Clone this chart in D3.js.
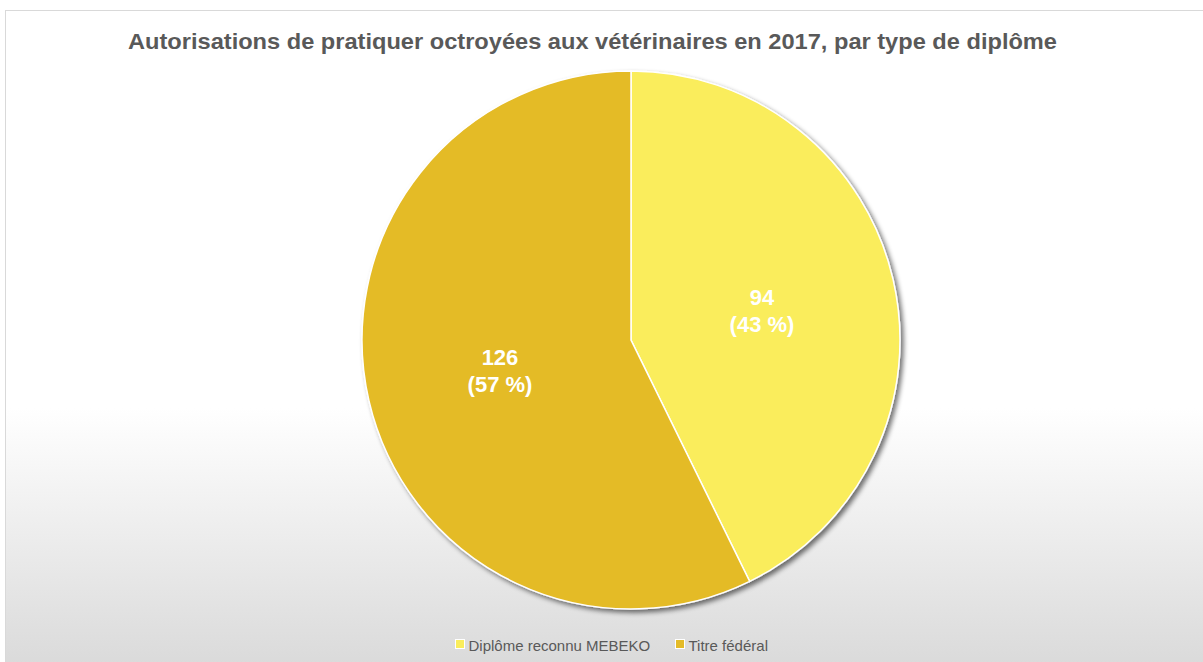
<!DOCTYPE html>
<html>
<head>
<meta charset="utf-8">
<script src="https://cdn.jsdelivr.net/npm/d3@7.9.0/dist/d3.min.js"></script>
<style>
  html, body { margin: 0; padding: 0; background: #fff; }
  svg { display: block; font-family: "Liberation Sans", Arial, sans-serif; }
</style>
</head>
<body>
<svg id="chart" width="1203" height="662"></svg>
<script>
const title = 'Autorisations de pratiquer octroyées aux vétérinaires en 2017, par type de diplôme';
const categories = ['Diplôme reconnu MEBEKO', 'Titre fédéral'];
const counts = [94, 126];
const percents = ['43 %', '57 %'];
const colors = ['#faed5c', '#e4bb28'];

const width = 1203, height = 662;
const svg = d3.select('#chart');
const defs = svg.append('defs');

// background gradient, white to grey at the bottom
const grad = defs.append('linearGradient')
  .attr('id', 'bg').attr('x1', 0).attr('y1', 0).attr('x2', 0).attr('y2', 1);
grad.append('stop').attr('offset', '0%').attr('stop-color', '#ffffff');
grad.append('stop').attr('offset', '60%').attr('stop-color', '#ffffff');
grad.append('stop').attr('offset', '100%').attr('stop-color', '#d9d9d9');

const shadow = defs.append('filter').attr('id', 'shadow')
  .attr('x', '-10%').attr('y', '-10%').attr('width', '120%').attr('height', '120%');
shadow.append('feGaussianBlur').attr('in', 'SourceAlpha').attr('stdDeviation', 2.5);
shadow.append('feOffset').attr('dx', 3).attr('dy', 3).attr('result', 'off');
shadow.append('feComponentTransfer').append('feFuncA').attr('type', 'linear').attr('slope', 0.55);
const merge = shadow.append('feMerge');
merge.append('feMergeNode');
merge.append('feMergeNode').attr('in', 'SourceGraphic');

svg.append('rect')
  .attr('x', 5.5).attr('y', 10.5)
  .attr('width', width + 10).attr('height', height)
  .attr('fill', 'url(#bg)')
  .attr('stroke', '#d9d9d9').attr('stroke-width', 1);

svg.append('text')
  .attr('x', 592.5).attr('y', 49)
  .attr('text-anchor', 'middle')
  .attr('font-size', 21.5).attr('font-weight', 'bold')
  .attr('fill', '#595959')
  .attr('textLength', 929).attr('lengthAdjust', 'spacingAndGlyphs')
  .text(title);

// pie
const cx = 631, cy = 340, r = 269;
const data = categories.map((c, i) => ({ label: c, value: counts[i], pct: percents[i], color: colors[i] }));
const pie = d3.pie().value(d => d.value).sort(null);
const arc = d3.arc().innerRadius(0).outerRadius(r);
const arcs = pie(data);

const g = svg.append('g').attr('transform', `translate(${cx},${cy})`);
g.append('g').attr('filter', 'url(#shadow)')
  .selectAll('path')
  .data(arcs)
  .enter()
  .append('path')
  .attr('d', arc)
  .attr('fill', d => d.data.color)
  .attr('stroke', '#ffffff')
  .attr('stroke-width', 1.5);

const labels = g.selectAll('text.lbl')
  .data(arcs)
  .enter()
  .append('text')
  .attr('class', 'lbl')
  .attr('transform', d => `translate(${arc.centroid(d)})`)
  .attr('text-anchor', 'middle')
  .attr('font-size', 22).attr('font-weight', 'bold')
  .attr('fill', '#ffffff');
labels.append('tspan').attr('x', 0).attr('y', -5).text(d => d.data.value);
labels.append('tspan').attr('x', 0).attr('y', 22).text(d => `(${d.data.pct})`);

// legend
const legend = svg.append('g').attr('transform', 'translate(0,645)');
const legX = [455, 675];
data.forEach((d, i) => {
  const item = legend.append('g').attr('transform', `translate(${legX[i]},0)`);
  item.append('rect')
    .attr('x', 0.5).attr('y', -5.5).attr('width', 9).attr('height', 9)
    .attr('fill', d.color).attr('stroke', '#ffffff').attr('stroke-width', 1);
  item.append('text')
    .attr('x', 13.5).attr('y', 5.5)
    .attr('font-size', 15).attr('fill', '#595959')
    .text(d.label);
});
</script>
</body>
</html>
